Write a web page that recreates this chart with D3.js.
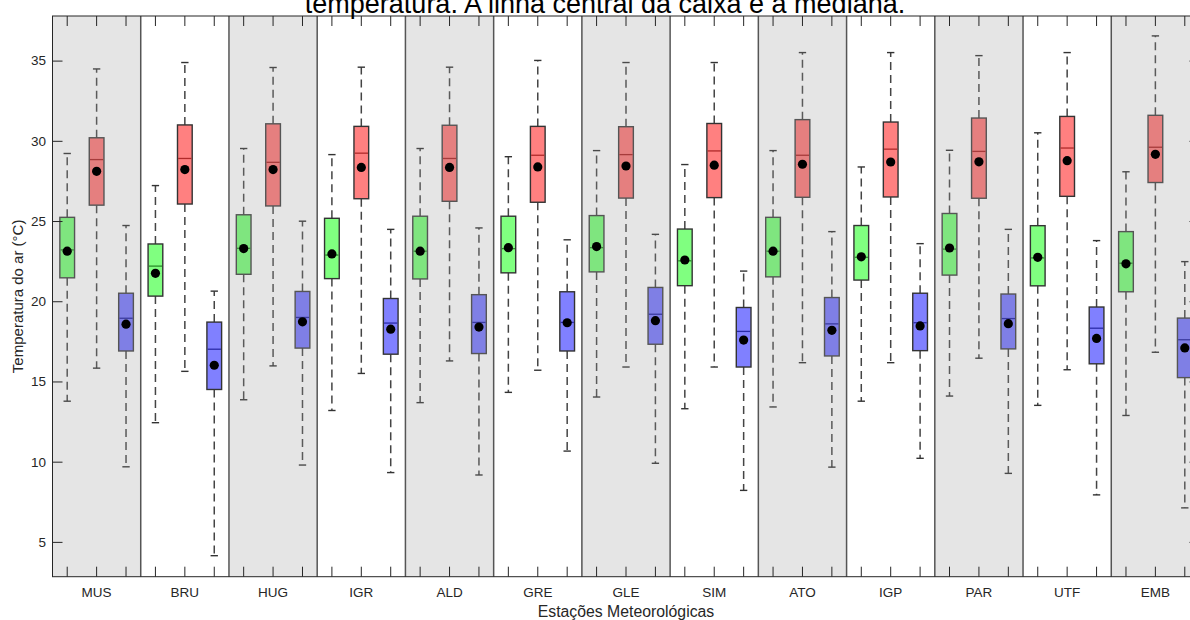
<!DOCTYPE html>
<html>
<head>
<meta charset="utf-8">
<script src="https://cdn.jsdelivr.net/npm/d3@7"></script>
<style>
  html, body { margin: 0; padding: 0; background: #fff; }
  svg { display: block; font-family: "Liberation Sans", Arial, Helvetica, sans-serif; }
</style>
</head>
<body>
<svg id="chart" width="1190" height="620"></svg>
<script>
// Weather stations along the x axis
const stations = ["MUS", "BRU", "HUG", "IGR", "ALD", "GRE", "GLE", "SIM", "ATO", "IGP", "PAR", "UTF", "EMB"];
const seriesKeys = ["tmed", "tmax", "tmin"];

// Box statistics per station: [lower whisker, Q1, median, Q3, upper whisker] (°C)
const tmedBoxes = [
  [13.77, 21.46, 23.20, 25.23, 29.21],
  [12.43, 20.32, 22.19, 23.57, 27.21],
  [13.86, 21.68, 23.30, 25.39, 29.52],
  [13.19, 21.41, 22.88, 25.17, 29.14],
  [13.68, 21.39, 23.12, 25.30, 29.52],
  [14.32, 21.77, 23.28, 25.30, 29.01],
  [14.03, 21.83, 23.34, 25.34, 29.39],
  [13.30, 20.97, 22.52, 24.50, 28.52],
  [13.41, 21.52, 23.12, 25.23, 29.39],
  [13.77, 21.32, 22.74, 24.72, 28.37],
  [14.09, 21.63, 23.25, 25.47, 29.41],
  [13.51, 20.96, 22.70, 24.71, 30.50],
  [12.88, 20.59, 22.37, 24.34, 28.07]
];
const tmaxBoxes = [
  [15.83, 25.99, 28.83, 30.19, 34.48],
  [15.63, 26.06, 28.90, 30.99, 34.88],
  [15.97, 25.94, 28.66, 31.06, 34.57],
  [15.50, 26.39, 29.23, 30.90, 34.59],
  [16.28, 26.23, 28.90, 30.97, 34.59],
  [15.70, 26.17, 29.10, 30.90, 35.01],
  [15.90, 26.43, 29.14, 30.88, 34.88],
  [15.90, 26.46, 29.37, 31.08, 34.88],
  [16.17, 26.48, 29.10, 31.32, 35.50],
  [16.17, 26.50, 29.48, 31.17, 35.50],
  [16.45, 26.42, 29.34, 31.42, 35.31],
  [15.73, 26.54, 29.55, 31.52, 35.50],
  [16.82, 27.40, 29.60, 31.59, 36.54]
];
const tminBoxes = [
  [9.68, 16.90, 18.94, 20.50, 24.72],
  [4.14, 14.50, 17.01, 18.70, 20.63],
  [9.79, 17.08, 18.99, 20.61, 24.99],
  [9.32, 16.70, 18.64, 20.17, 24.48],
  [9.17, 16.74, 18.68, 20.41, 24.57],
  [10.66, 16.90, 18.68, 20.59, 23.83],
  [9.90, 17.32, 19.19, 20.86, 24.17],
  [8.21, 15.90, 18.12, 19.61, 21.88],
  [9.66, 16.59, 18.59, 20.23, 24.34],
  [10.21, 16.92, 18.66, 20.50, 23.59],
  [9.27, 17.03, 18.92, 20.45, 24.48],
  [7.93, 16.10, 18.32, 19.64, 23.78],
  [7.12, 15.24, 17.60, 18.95, 22.47]
];

// Means per station (°C)
const tmedMeans = [23.12, 21.74, 23.28, 22.95, 23.12, 23.34, 23.41, 22.57, 23.12, 22.77, 23.32, 22.74, 22.33];
const tmaxMeans = [28.10, 28.21, 28.21, 28.34, 28.34, 28.37, 28.43, 28.48, 28.54, 28.68, 28.69, 28.76, 29.16];
const tminMeans = [18.57, 16.01, 18.72, 18.26, 18.39, 18.66, 18.79, 17.58, 18.19, 18.46, 18.60, 17.68, 17.09];

// Y tick values
const yTicks = [5, 10, 15, 20, 25, 30, 35];

const titleText = "temperatura. A linha central da caixa é a mediana.";
const yLabel = "Temperatura do ar (°C)";
const xLabel = "Estações Meteorológicas";

// ---- layout ----
const plotLeft = 52.5, plotRight = 1199.5, plotTop = 16, plotBottom = 576.7;

const svg = d3.select("#chart");
svg.append("rect").attr("width", 1190).attr("height", 620).attr("fill", "#fff");

const y = d3.scaleLinear().domain([2.83, 37.78]).range([plotBottom, plotTop]);
const xStation = d3.scaleBand().domain(stations).range([plotLeft, plotRight]);
const xSeries = d3.scaleBand().domain(seriesKeys).range([0, xStation.bandwidth()]);
const groupKeys = stations.flatMap(s => seriesKeys.map(k => s + "|" + k));
const xGroup = d3.scaleBand().domain(groupKeys).range([plotLeft, plotRight]);

const boxW = xGroup.bandwidth() * 0.5;
const capW = boxW * 0.5;

const baseFill = { tmed: "#80ff80", tmax: "#ff8080", tmin: "#8080ff" };
const medianCol = { tmed: "#2a8c2a", tmax: "#b02a2a", tmin: "#2a2aa8" };
const shadeGrey = "#7d7d7d";
const shadeAmt = 0.2;
const isShaded = i => i % 2 === 0;
const tone = (c, i) => isShaded(i) ? d3.interpolateRgb(c, shadeGrey)(shadeAmt) : c;

const boxSets = { tmed: tmedBoxes, tmax: tmaxBoxes, tmin: tminBoxes };
const meanSets = { tmed: tmedMeans, tmax: tmaxMeans, tmin: tminMeans };

const records = [];
stations.forEach((st, i) => {
  seriesKeys.forEach(k => {
    const b = boxSets[k][i];
    records.push({
      station: st, idx: i, key: k,
      lo: b[0], q1: b[1], med: b[2], q3: b[3], hi: b[4], mean: meanSets[k][i],
      cx: xStation(st) + xSeries(k) + xSeries.bandwidth() / 2
    });
  });
});

// panel backgrounds
svg.append("g").selectAll("rect")
  .data(stations)
  .join("rect")
  .attr("x", d => xStation(d))
  .attr("y", plotTop)
  .attr("width", xStation.bandwidth())
  .attr("height", plotBottom - plotTop)
  .attr("fill", (d, i) => isShaded(i) ? "#e5e5e5" : "#ffffff");

// panel separators
svg.append("g").selectAll("line")
  .data(stations.slice(1))
  .join("line")
  .attr("x1", d => xStation(d)).attr("x2", d => xStation(d))
  .attr("y1", plotTop).attr("y2", plotBottom)
  .attr("stroke", "#555").attr("stroke-width", 1.5);

const g = svg.append("g");

// whiskers (dashed) with solid end caps
const whisk = g.append("g");
records.forEach(r => {
  const wc = isShaded(r.idx) ? "#5a5a5a" : "#444";
  whisk.append("line")
    .attr("x1", r.cx).attr("x2", r.cx)
    .attr("y1", y(r.q3)).attr("y2", y(r.hi))
    .attr("stroke", wc).attr("stroke-width", 1.5).attr("stroke-dasharray", "8,5");
  whisk.append("line")
    .attr("x1", r.cx).attr("x2", r.cx)
    .attr("y1", y(r.q1)).attr("y2", y(r.lo))
    .attr("stroke", wc).attr("stroke-width", 1.5).attr("stroke-dasharray", "8,5");
  [r.hi, r.lo].forEach(v => {
    whisk.append("line")
      .attr("x1", r.cx - capW / 2).attr("x2", r.cx + capW / 2)
      .attr("y1", y(v)).attr("y2", y(v))
      .attr("stroke", isShaded(r.idx) ? "#4a4a4a" : "#333").attr("stroke-width", 1.4);
  });
});

// boxes
g.append("g").selectAll("rect")
  .data(records)
  .join("rect")
  .attr("x", d => d.cx - boxW / 2)
  .attr("y", d => y(d.q3))
  .attr("width", boxW)
  .attr("height", d => y(d.q1) - y(d.q3))
  .attr("fill", d => tone(baseFill[d.key], d.idx))
  .attr("stroke", d => isShaded(d.idx) ? "#555" : "#333")
  .attr("stroke-width", 1.4);

// medians
g.append("g").selectAll("line")
  .data(records)
  .join("line")
  .attr("x1", d => d.cx - boxW / 2 + 0.7).attr("x2", d => d.cx + boxW / 2 - 0.7)
  .attr("y1", d => y(d.med)).attr("y2", d => y(d.med))
  .attr("stroke", d => tone(medianCol[d.key], d.idx))
  .attr("stroke-width", 1.3);

// means
g.append("g").selectAll("circle")
  .data(records)
  .join("circle")
  .attr("cx", d => d.cx)
  .attr("cy", d => y(d.mean))
  .attr("r", 4.6)
  .attr("fill", "#000");

// ---- axes ----
const axisCol = "#262626";
const styleAxis = sel => {
  sel.selectAll("path.domain").remove();
  sel.selectAll(".tick line").attr("stroke", axisCol).attr("stroke-width", 1);
  sel.selectAll(".tick text").attr("fill", axisCol).attr("font-size", 13.5)
    .attr("font-family", "'Liberation Sans', Arial, sans-serif");
};

svg.append("g")
  .attr("transform", `translate(0,${plotBottom})`)
  .call(d3.axisBottom(xGroup).tickSizeInner(-10).tickSizeOuter(0).tickPadding(11)
    .tickFormat(d => d.endsWith("|tmax") ? d.split("|")[0] : ""))
  .call(styleAxis);

svg.append("g")
  .attr("transform", `translate(0,${plotTop})`)
  .call(d3.axisTop(xGroup).tickSizeInner(-10).tickSizeOuter(0).tickFormat(""))
  .call(styleAxis);

svg.append("g")
  .attr("transform", `translate(${plotLeft},0)`)
  .call(d3.axisLeft(y).tickValues(yTicks).tickSizeInner(-10).tickSizeOuter(0).tickPadding(6.5))
  .call(styleAxis);

svg.append("g")
  .attr("transform", `translate(${plotRight},0)`)
  .call(d3.axisRight(y).tickValues(yTicks).tickSizeInner(-10).tickSizeOuter(0).tickFormat(""))
  .call(styleAxis);

// frame
svg.append("rect")
  .attr("x", plotLeft).attr("y", plotTop)
  .attr("width", plotRight - plotLeft).attr("height", plotBottom - plotTop)
  .attr("fill", "none").attr("stroke", axisCol).attr("stroke-width", 1);

// labels
svg.append("text")
  .attr("x", 605).attr("y", 13)
  .attr("text-anchor", "middle")
  .attr("font-size", 27)
  .attr("fill", "#000")
  .text(titleText);

svg.append("text")
  .attr("transform", `translate(23,${(plotTop + plotBottom) / 2}) rotate(-90)`)
  .attr("text-anchor", "middle")
  .attr("font-size", 15)
  .attr("fill", axisCol)
  .text(yLabel);

svg.append("text")
  .attr("x", (plotLeft + plotRight) / 2).attr("y", 617)
  .attr("text-anchor", "middle")
  .attr("font-size", 15.8)
  .attr("fill", axisCol)
  .text(xLabel);
</script>
</body>
</html>
